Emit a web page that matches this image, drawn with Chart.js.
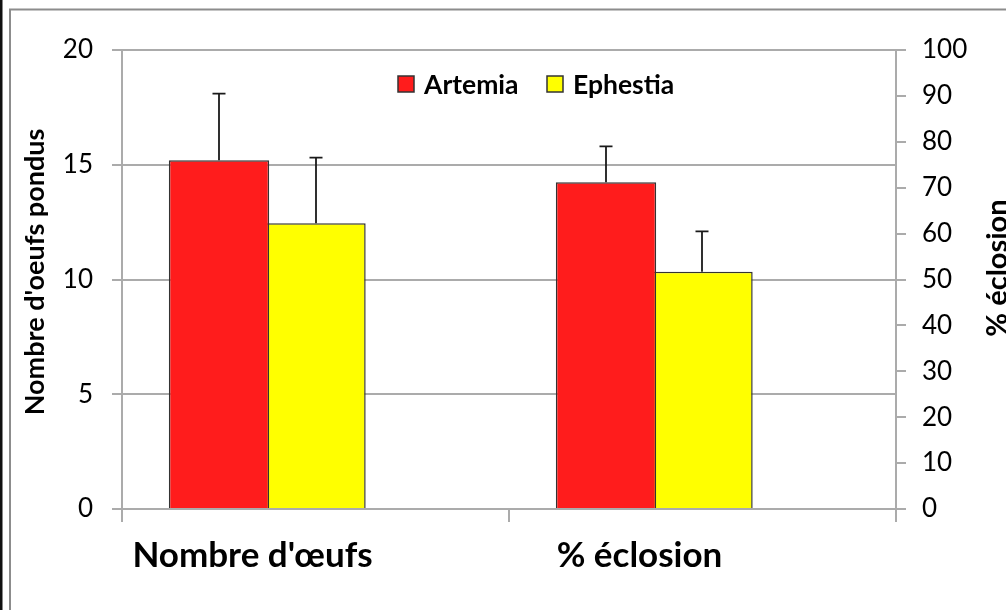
<!DOCTYPE html>
<html><head><meta charset="utf-8">
<script src="https://cdn.jsdelivr.net/npm/chart.js@4.4.1/dist/chart.umd.min.js"></script>
<style>html,body{margin:0;padding:0;background:#fff}canvas{display:block}</style>
</head><body>
<canvas id="c" width="1006" height="610"></canvas>
<script>
const categories = ["Nombre d'œufs", "% éclosion"];
const seriesNames = ["Artemia", "Ephestia"];
const seriesColors = ["#FF1C1C", "#FFFF00"];
const artemiaMeans = [15.2, 71.2];
const artemiaErrors = [2.9, 7.8];
const ephestiaMeans = [12.45, 51.7];
const ephestiaErrors = [2.86, 8.8];
const leftTicks = [0, 5, 10, 15, 20];
const rightTicks = [0, 10, 20, 30, 40, 50, 60, 70, 80, 90, 100];
const leftTitle = "Nombre d'oeufs pondus";
const rightTitle = "% éclosion";

const FONT = "Lato, 'Open Sans', sans-serif";
const GRID = '#ABABAB';

function only(arr, idx) { return arr.map((v, i) => i === idx ? v : null); }

const common = { borderColor: '#333333', borderWidth: 1.5, barPercentage: 1.04, categoryPercentage: 0.748 };
const datasets = [
  Object.assign({ label: seriesNames[0], data: only(artemiaMeans, 0), errors: only(artemiaErrors, 0), yAxisID: 'y', stack: 'a', backgroundColor: seriesColors[0] }, common),
  Object.assign({ label: seriesNames[0], data: only(artemiaMeans, 1), errors: only(artemiaErrors, 1), yAxisID: 'y1', stack: 'a', backgroundColor: seriesColors[0] }, common),
  Object.assign({ label: seriesNames[1], data: only(ephestiaMeans, 0), errors: only(ephestiaErrors, 0), yAxisID: 'y', stack: 'e', backgroundColor: seriesColors[1] }, common),
  Object.assign({ label: seriesNames[1], data: only(ephestiaMeans, 1), errors: only(ephestiaErrors, 1), yAxisID: 'y1', stack: 'e', backgroundColor: seriesColors[1] }, common),
  Object.assign({ label: '', data: categories.map(() => null), yAxisID: 'y', stack: 'gap', backgroundColor: 'rgba(0,0,0,0)' }, common)
];

const framePlugin = {
  id: 'frame',
  beforeDraw(chart) {
    const ctx = chart.ctx;
    ctx.save();
    ctx.fillStyle = '#fff';
    ctx.fillRect(0, 0, chart.width, chart.height);
    ctx.fillStyle = '#111';
    ctx.fillRect(0, 0, 2.5, chart.height);
    ctx.strokeStyle = '#8C8C8C';
    ctx.lineWidth = 2;
    ctx.beginPath();
    ctx.moveTo(10, chart.height + 5);
    ctx.lineTo(10, 9.5);
    ctx.lineTo(chart.width + 5, 9.5);
    ctx.stroke();
    ctx.restore();
  }
};

const errorPlugin = {
  id: 'errorBars',
  afterDatasetsDraw(chart) {
    const ctx = chart.ctx;
    ctx.save();
    ctx.strokeStyle = '#1A1A1A';
    ctx.lineWidth = 1.8;
    chart.data.datasets.forEach((ds, i) => {
      if (!ds.errors) return;
      const meta = chart.getDatasetMeta(i);
      const scale = chart.scales[ds.yAxisID];
      ds.data.forEach((v, j) => {
        if (v === null || ds.errors[j] === null) return;
        const bar = meta.data[j];
        const x = Math.round(bar.x);
        const y0 = scale.getPixelForValue(v);
        const y1 = scale.getPixelForValue(v + ds.errors[j]);
        ctx.beginPath();
        ctx.moveTo(x, y0);
        ctx.lineTo(x, y1);
        ctx.moveTo(x - 6.5, y1);
        ctx.lineTo(x + 6.5, y1);
        ctx.stroke();
      });
    });
    ctx.restore();
  }
};

const textPlugin = {
  id: 'texts',
  afterDraw(chart) {
    const ctx = chart.ctx;
    ctx.save();
    ctx.fillStyle = '#000';
    ctx.textAlign = 'center';
    ctx.textBaseline = 'middle';
    ctx.font = "bold 27px " + FONT;
    ctx.save(); ctx.translate(35, 272); ctx.rotate(-Math.PI / 2); ctx.fillText(leftTitle, 0, 0); ctx.restore();
    ctx.font = "bold 29px " + FONT;
    ctx.save(); ctx.translate(998, 268); ctx.rotate(-Math.PI / 2); ctx.fillText(rightTitle, 0, 0); ctx.restore();
    // legend
    const items = [{ x: 398 }, { x: 547 }];
    ctx.font = "bold 26.5px " + FONT;
    ctx.textAlign = 'left';
    items.forEach((it, k) => {
      ctx.fillStyle = seriesColors[k];
      ctx.fillRect(it.x, 76, 16, 16);
      ctx.strokeStyle = '#333';
      ctx.lineWidth = 1.5;
      ctx.strokeRect(it.x, 76, 16, 16);
      ctx.fillStyle = '#000';
      ctx.fillText(seriesNames[k], it.x + 26, 85);
    });
    ctx.restore();
  }
};

new Chart(document.getElementById('c'), {
  type: 'bar',
  data: { labels: categories, datasets: datasets },
  options: {
    responsive: false,
    animation: false,
    layout: { padding: { top: 50, left: 0, right: 0, bottom: 0 } },
    plugins: { legend: { display: false }, tooltip: { enabled: false } },
    scales: {
      x: {
        type: 'category',
        offset: true,
        grid: { offset: true, drawOnChartArea: false, drawTicks: true, tickLength: 13, color: GRID, lineWidth: 2 },
        border: { display: true, color: GRID, width: 2 },
        ticks: { font: { family: FONT, size: 35, weight: 'bold' }, color: '#000', labelOffset: -63, padding: 13 },
        afterFit(s) { s.height = 101; }
      },
      y: {
        position: 'left',
        min: 0, max: 20,
        stacked: false,
        afterBuildTicks(s) { s.ticks = leftTicks.map(v => ({ value: v })); },
        grid: { color: GRID, lineWidth: 2, tickLength: 10 },
        border: { display: true, color: GRID, width: 2 },
        ticks: { font: { family: FONT, size: 26 }, color: '#000', padding: 19 },
        afterFit(s) { s.width = 122; }
      },
      y1: {
        position: 'right',
        min: 0, max: 100,
        stacked: false,
        afterBuildTicks(s) { s.ticks = rightTicks.map(v => ({ value: v })); },
        grid: { drawOnChartArea: false, color: GRID, lineWidth: 2, tickLength: 10 },
        border: { display: true, color: GRID, width: 2 },
        ticks: { font: { family: FONT, size: 26 }, color: '#000', padding: 16 },
        afterFit(s) { s.width = 110; }
      }
    }
  },
  plugins: [framePlugin, errorPlugin, textPlugin]
});
</script>
</body></html>
